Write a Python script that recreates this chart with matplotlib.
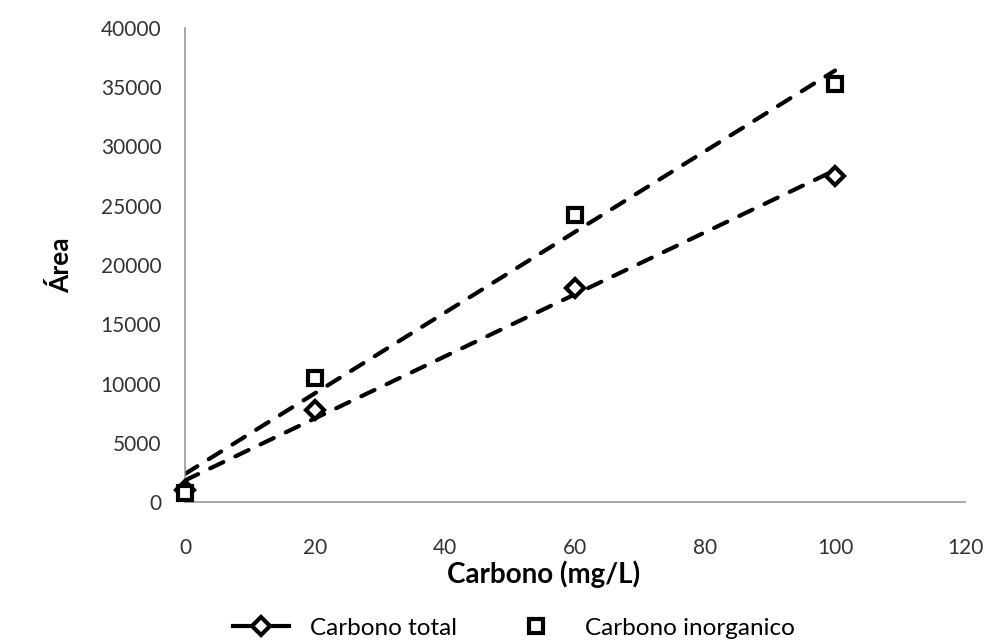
import numpy as np
import matplotlib
matplotlib.use("Agg")
import matplotlib.pyplot as plt
from matplotlib.lines import Line2D

carbono = [0, 20, 60, 100]
area_total = [1000, 7800, 18100, 27500]
area_inorganico = [750, 10500, 24200, 35300]
xticks = [0, 20, 40, 60, 80, 100, 120]
yticks = [0, 5000, 10000, 15000, 20000, 25000, 30000, 35000, 40000]

plt.rcParams['font.family'] = ['Lato', 'DejaVu Sans']

fig = plt.figure(figsize=(9.92, 6.41), dpi=100)
ax = fig.add_axes([185/992, 1 - 502/641, (965 - 185)/992, (502 - 28)/641])

x = np.array(carbono, dtype=float)
for ys, mk, ms in [(area_total, 'D', 9.5), (area_inorganico, 's', 9.5)]:
    ax.plot(x, ys, linestyle='none', marker=mk, markersize=ms,
            markerfacecolor='white', markeredgecolor='black', markeredgewidth=3,
            zorder=3, clip_on=False)
    k, b = np.polyfit(x, ys, 1)
    xl = np.array([x.min(), x.max()])
    ax.plot(xl, k*xl + b, color='black', linewidth=3, linestyle=(0, (3.5, 3.2)),
            dash_capstyle='round', zorder=2)

ax.set_xlim(0, 120)
ax.set_ylim(0, 40000)
ax.set_xticks(xticks)
ax.set_yticks(yticks)
ax.tick_params(length=0, labelsize=15, colors='#333333')
ax.tick_params(axis='y', pad=17)
ax.tick_params(axis='x', pad=26)
for s in ['top', 'right']:
    ax.spines[s].set_visible(False)
for s in ['left', 'bottom']:
    ax.spines[s].set_color('#999999')
    ax.spines[s].set_linewidth(1.2)

ax.set_xlabel('Carbono (mg/L)', fontsize=20, fontweight='bold')
ax.xaxis.set_label_coords((544 - 185) / 780, (502 - 574) / 474)
ax.xaxis.label.set_verticalalignment('center')
ax.set_ylabel('Área', fontsize=19, fontweight='bold', labelpad=20)

handles = [
    Line2D([0], [0], color='black', linewidth=3, marker='D', markersize=9.5,
           markerfacecolor='white', markeredgecolor='black', markeredgewidth=3),
    Line2D([0], [0], color='none', marker='s', markersize=9.5,
           markerfacecolor='white', markeredgecolor='black', markeredgewidth=3),
]
fig.legend(handles, ['Carbono total', 'Carbono inorganico'], loc='center',
           bbox_to_anchor=(514/992, 1 - 628/641), ncol=2, frameon=False,
           fontsize=17.5, handlelength=2.3, columnspacing=2.1, handletextpad=0.85)

fig.savefig('out.png', dpi=100)
